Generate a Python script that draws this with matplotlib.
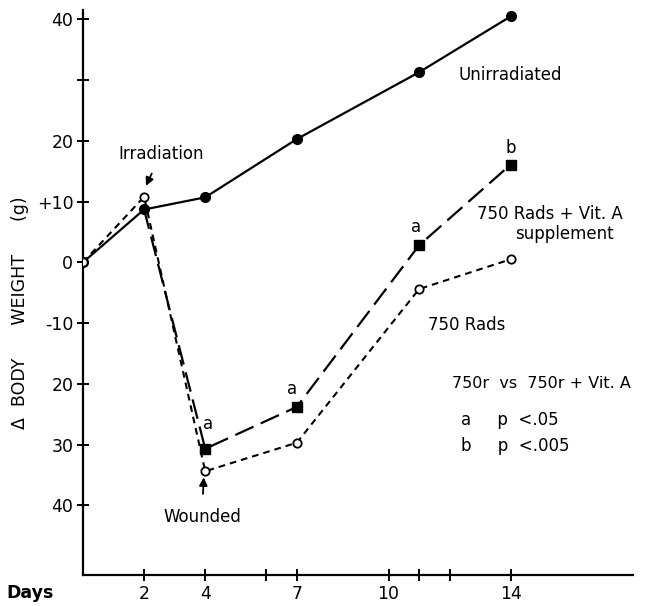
import numpy as np
import matplotlib
matplotlib.use("Agg")
import matplotlib.pyplot as plt

days = [0, 2, 4, 7, 11, 14]
unirradiated = [0, 8.7, 10.7, 20.3, 31.3, 40.5]
rads750 = [0, 10.8, -34.4, -29.7, -4.4, 0.5]
vita_days = [0, 2, 4, 7, 11, 14]
rads750_vita = [0, 8.7, -30.7, -23.8, 2.8, 16.1]

xticks = [2, 4, 6, 7, 10, 11, 12, 14]
xticklabels = ["2", "4", "", "7", "10", "", "", "14"]
yticks = [40, 30, 20, 10, 0, -10, -20, -30, -40]
yticklabels = ["40", "", "20", "+10", "0", "-10", "20", "30", "40"]

# significance marks: (day, value, letter)
sig_marks = [(4.08, -26.6, "a"), (6.85, -20.9, "a"), (10.9, 5.8, "a"), (14.0, 18.9, "b")]

plt.rcParams['font.family'] = ['DejaVu Sans']
fig = plt.figure(figsize=(6.5, 6.06), dpi=100)
ax = fig.add_axes([0.1277, 0.051, 0.846, 0.932])

ax.plot(days, unirradiated, color="black", lw=1.6, marker="o", ms=7, zorder=3)
ax.plot(days, rads750, color="black", lw=1.5, ls=(0, (3.2, 2.4)),
        marker="o", ms=6, mfc="white", mec="black", mew=1.3, zorder=4)
ax.plot(vita_days[1:], rads750_vita[1:], color="black", lw=1.6, ls=(0, (9, 3.6)),
        marker="s", ms=7.5, zorder=3, markevery=[1, 2, 3, 4])

ax.set_xlim(0, 18)
ax.set_ylim(-51.5, 41.5)
ax.set_xticks(xticks)
ax.set_xticklabels(xticklabels)
ax.set_yticks(yticks)
ax.set_yticklabels(yticklabels)
for s in ["top", "right"]:
    ax.spines[s].set_visible(False)
for s in ["left", "bottom"]:
    ax.spines[s].set_linewidth(1.6)
ax.tick_params(direction="inout", length=8, width=1.4, labelsize=12.5, pad=3)

ax.text(-0.096, -0.032, "Days", transform=ax.transAxes, ha="center", va="center",
        fontsize=12.5, fontweight="bold")
ax.text(-0.115, 0.465, "Δ  BODY      WEIGHT      (g)", transform=ax.transAxes, rotation=90,
        ha="center", va="center", fontsize=12.5)

ax.annotate("Irradiation", xy=(2.06, 12.6), xytext=(2.55, 17.8), ha="center", va="center",
            fontsize=12, arrowprops=dict(arrowstyle="-|>", color="black", lw=1.3,
                                         shrinkA=6, shrinkB=0))
ax.annotate("Wounded", xy=(3.95, -35.4), xytext=(3.9, -41.9), ha="center", va="center",
            fontsize=12, arrowprops=dict(arrowstyle="-|>", color="black", lw=1.3,
                                         shrinkA=8, shrinkB=0))

ax.text(14.0, 30.8, "Unirradiated", ha="center", va="center", fontsize=12)
ax.text(12.9, 7.9, "750 Rads + Vit. A", ha="left", va="center", fontsize=12)
ax.text(15.76, 4.6, "supplement", ha="center", va="center", fontsize=12)
ax.text(11.3, -10.4, "750 Rads", ha="left", va="center", fontsize=12)
ax.text(12.08, -19.9, "750r  vs  750r + Vit. A", ha="left", va="center", fontsize=11.5)
ax.text(12.37, -25.9, "a     p  <.05", ha="left", va="center", fontsize=12)
ax.text(12.37, -30.3, "b     p  <.005", ha="left", va="center", fontsize=12)

for x, y, t in sig_marks:
    ax.text(x, y, t, ha="center", va="center", fontsize=12)

fig.savefig("out.png", dpi=100)
